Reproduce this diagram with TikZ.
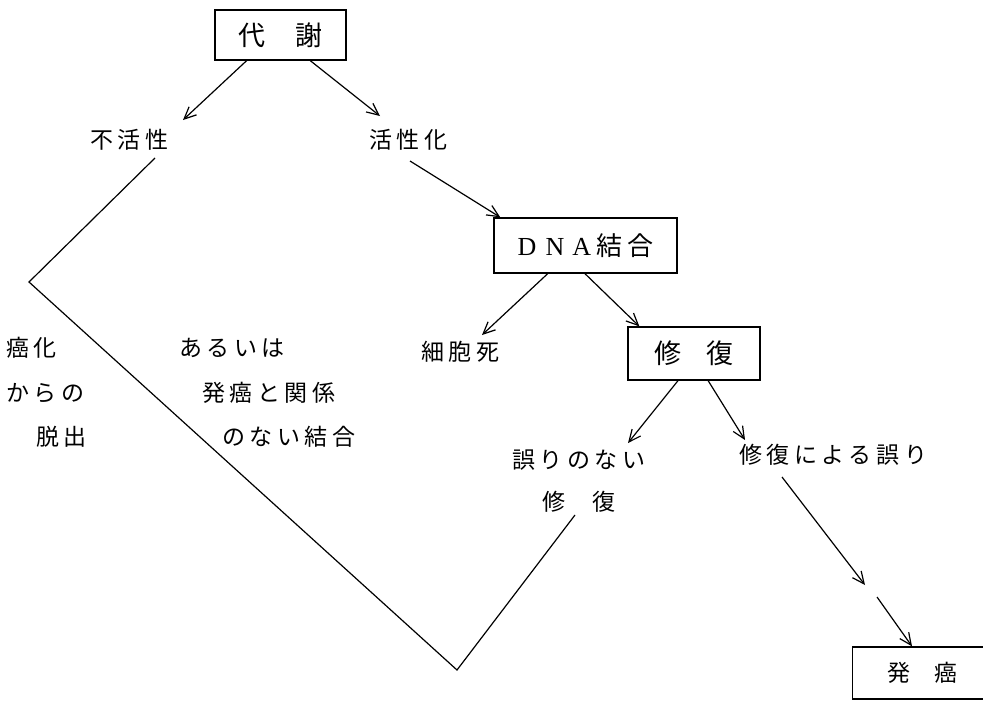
\documentclass[tikz,border=0pt]{standalone}
\usepackage{fontspec}
\setmainfont{Liberation Serif}
\newfontfamily\jp{Noto Sans CJK JP}[LetterSpace=20]
\usetikzlibrary{arrows.meta,calc}
\tikzset{
  lbl/.style={inner sep=0pt, anchor=west, font=\jp\fontsize{23pt}{23pt}\selectfont},
  boxn/.style={draw, line width=1.3pt, inner sep=0pt, font=\jp\fontsize{27pt}{27pt}\selectfont},
  arr/.style={line width=1.2pt, -{Straight Barb[length=12pt,width=11pt,line width=1.2pt]}},
  ln/.style={line width=1.2pt, line join=miter}
}
\begin{document}
\begin{tikzpicture}[x=1pt,y=-1pt]
\useasboundingbox (0,0) rectangle (983,701);
\clip (0,0) rectangle (983,701);
\fill[white] (0,0) rectangle (983,701);

% boxes
\node[boxn, minimum width=131pt, minimum height=50pt] (daisha) at (280.5,35) {代\hspace{30pt}謝};
\node[boxn, minimum width=183pt, minimum height=55pt] (dna) at (585.5,245.5)
  {\rmfamily\fontsize{26pt}{26pt}\selectfont D\hspace{9pt}N\hspace{8pt}A\hspace{5pt}{\jp\fontsize{26pt}{26pt}\selectfont 結合}};
\node[boxn, minimum width=132pt, minimum height=53pt] (shufuku) at (694,353.5) {修\hspace{26pt}復};
\node[boxn, anchor=west, font=\jp\fontsize{23pt}{23pt}\selectfont, minimum height=52pt, minimum width=170pt, inner xsep=27pt, align=left, text width=100pt] (hatsu) at (852,673) {発\hspace{24pt}癌};

% labels
\node[lbl] (fuk) at (90,140) {不活性};
\node[lbl] (kas) at (369,140) {活性化};
\node[lbl] (saibo) at (421,352) {細胞死};
\node[lbl] (ayam) at (512,460) {誤りのない};
\node[lbl] (shf2) at (542,502) {修\hspace{27pt}復};
\node[lbl] (err) at (739,455) {修復による誤り};
\node[lbl] (g1) at (6,348) {癌化};
\node[lbl] (g2) at (6,393) {からの};
\node[lbl] (g3) at (36,437) {脱出};
\node[lbl] (r1) at (179,348) {あるいは};
\node[lbl] (r2) at (202,393) {発癌と関係};
\node[lbl] (r3) at (222,437) {のない結合};

% free ends
\coordinate (t1) at (183,120);
\coordinate (t2) at (380,116);
\coordinate (s3) at (410,161);
\coordinate (t4) at (482,335);
\coordinate (t6) at (628,443);
\coordinate (t7) at (745,440);
\coordinate (s8) at (782,477);
\coordinate (t8) at (865,585);
\coordinate (s9) at (877,597);
\coordinate (p0) at (155,158);
\coordinate (p1) at (29,282);
\coordinate (p2) at (457,670);
\coordinate (p3) at (575,515);

% connectors
\draw[arr] ($(daisha.south west)!0.244!(daisha.south east)$) -- (t1);
\draw[arr] ($(daisha.south west)!0.725!(daisha.south east)$) -- (t2);
\draw[arr] (s3) -- ($(dna.north west)+(7,0)$);
\draw[arr] ($(dna.south west)!0.295!(dna.south east)$) -- (t4);
\draw[arr] ($(dna.south west)!0.497!(dna.south east)$) -- ($(shufuku.north west)+(12,0)$);
\draw[arr] ($(shufuku.south west)!0.38!(shufuku.south east)$) -- (t6);
\draw[arr] ($(shufuku.south west)!0.606!(shufuku.south east)$) -- (t7);
\draw[arr] (s8) -- (t8);
\draw[arr] (s9) -- ($(hatsu.north west)+(60,0)$);
\draw[ln] (p0) -- (p1) -- (p2) -- (p3);
\end{tikzpicture}
\end{document}
